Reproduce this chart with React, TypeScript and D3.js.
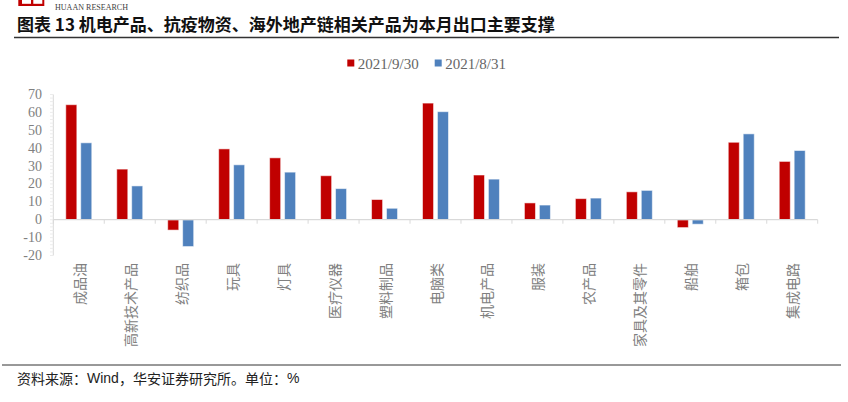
import React from "react";
import * as d3 from "d3";

const categories = ["成品油", "高新技术产品", "纺织品", "玩具", "灯具", "医疗仪器", "塑料制品", "电脑类", "机电产品", "服装", "农产品", "家具及其零件", "船舶", "箱包", "集成电路"];
const seriesNames = ["2021/9/30", "2021/8/31"];
const sep2021 = [64.3, 28.3, -5.8, 39.6, 34.6, 24.6, 11.3, 65.2, 25.0, 9.4, 11.8, 15.6, -4.4, 43.3, 32.6];
const aug2021 = [43.0, 18.9, -15.0, 30.7, 26.6, 17.4, 6.4, 60.4, 22.7, 8.2, 12.1, 16.4, -2.5, 48.0, 38.7];
const yTicks = [-20, -10, 0, 10, 20, 30, 40, 50, 60, 70];
const colors = ["#C00000", "#4F81BD"];

const W = 848;
const H = 402;

export default function App() {
  const x0 = d3.scaleBand<string>().domain(categories).range([53.3, 817.7]).padding(0);
  const bw = x0.bandwidth();
  const x1 = d3.scaleBand<string>().domain(seriesNames).range([bw / 2 - 13, bw / 2 + 13]).paddingInner(0.26);
  const y = d3.scaleLinear().domain([-20, 70]).range([255.5, 94.5]);
  const minor = d3.range(-20, 70.01, 2);
  const values = [sep2021, aug2021];
  const serif = "'Liberation Serif', 'Times New Roman', serif";
  const cjk = "'Noto Sans CJK SC', sans-serif";

  return (
    <svg width={W} height={H} style={{ position: "absolute", left: 0, top: 0, background: "#fff" }}>
      {/* logo */}
      <rect x={18.3} y={0} width={26} height={6} fill="#C00000" />
      <rect x={22} y={0} width={9} height={3.8} fill="#fff" />
      <rect x={33.3} y={0} width={9} height={3.8} fill="#fff" />
      <text x={55} y={9.5} fontFamily={serif} fontSize={9} fill="#404040" textLength={73} lengthAdjust="spacingAndGlyphs">HUAAN RESEARCH</text>

      {/* title */}
      <text x={17} y={30.5} fontFamily={cjk} fontWeight="bold" fontSize={17} fill="#111">图表 13 机电产品、抗疫物资、海外地产链相关产品为本月出口主要支撑</text>
      <line x1={14} x2={839} y1={37.5} y2={37.5} stroke="#333" strokeWidth={1.5} />

      {/* legend */}
      {seriesNames.map((s, i) => {
        const lx = [347.3, 434.7][i];
        return (
          <g key={s}>
            <rect x={lx} y={59.5} width={7} height={7} fill={colors[i]} />
            <text x={lx + 10.5} y={63.5} dominantBaseline="central" fontFamily={serif} fontSize={15} fill="#666">{s}</text>
          </g>
        );
      })}

      {/* y axis */}
      <line x1={53.3} x2={53.3} y1={y(70)} y2={y(-20)} stroke="#d9d9d9" strokeWidth={1} />
      {minor.map((v) => (
        <line key={"m" + v} x1={50} x2={53.3} y1={y(v)} y2={y(v)} stroke="#ececec" strokeWidth={1} />
      ))}
      {yTicks.map((v) => (
        <text key={v} x={42} y={y(v)} textAnchor="end" dominantBaseline="central" fontFamily={serif} fontSize={14} fill="#808080">{v}</text>
      ))}

      {/* bars */}
      {categories.map((c, ci) => (
        <g key={c} transform={`translate(${x0(c)},0)`}>
          {seriesNames.map((s, si) => {
            const v = values[si][ci];
            const y0 = y(0);
            const yv = y(v);
            return (
              <rect key={s} x={x1(s)} y={Math.min(y0, yv)} width={x1.bandwidth()} height={Math.abs(yv - y0)} fill={colors[si]} stroke="#fff" strokeOpacity={0.55} strokeWidth={1} />
            );
          })}
        </g>
      ))}

      {/* x axis at zero */}
      <line x1={53.3} x2={817.7} y1={y(0)} y2={y(0)} stroke="#d9d9d9" strokeWidth={1.2} />
      {d3.range(categories.length + 1).map((i) => {
        const xx = 53.3 + i * bw;
        return <line key={"t" + i} x1={xx} x2={xx} y1={y(0)} y2={y(0) + 4} stroke="#d9d9d9" strokeWidth={1} />;
      })}

      {/* x labels */}
      {categories.map((c) => {
        const cx = (x0(c) as number) + bw / 2;
        return (
          <text key={"l" + c} transform={`translate(${cx},263) rotate(-90)`} textAnchor="end" dominantBaseline="central" fontFamily={cjk} fontSize={14} fill="#808080">{c}</text>
        );
      })}

      {/* footer */}
      <line x1={2} x2={841} y1={365} y2={365} stroke="#333" strokeWidth={1} />
      <text x={17} y={378} dominantBaseline="central" fontFamily={cjk} fontSize={14} fill="#222">
        资料来源：<tspan fontFamily="'Liberation Sans', Arial, sans-serif">Wind</tspan>，华安证券研究所。单位：<tspan fontFamily="'Liberation Sans', Arial, sans-serif">%</tspan>
      </text>
    </svg>
  );
}
